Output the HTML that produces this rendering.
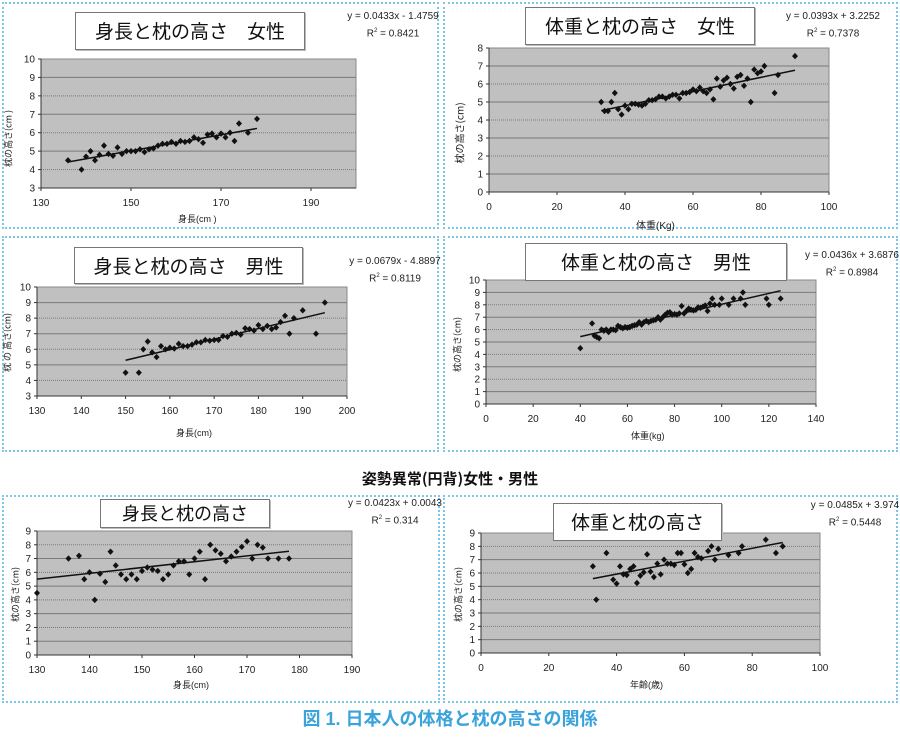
<!DOCTYPE html>
<html><head><meta charset="utf-8">
<style>
body{margin:0;width:900px;height:738px;background:#fff;position:relative;overflow:hidden;font-family:"Liberation Sans","Noto Sans CJK JP",sans-serif;}
.box{position:absolute;border:2px dotted #7cc6ea;box-sizing:border-box;}
.tt{position:absolute;background:#fff;border:1px solid #777;box-shadow:1px 1px 0 #bbb;box-sizing:border-box;text-align:center;font-family:"Noto Sans CJK JP",sans-serif;color:#111;}
.eq{position:absolute;font-size:10px;text-align:center;color:#222;line-height:15px;width:120px}
.ax{position:absolute;font-size:9px;color:#222;font-family:"Liberation Sans","Noto Sans CJK JP",sans-serif;white-space:nowrap}
.yt{position:absolute;font-size:9px;color:#222;transform:rotate(-90deg);transform-origin:center;white-space:nowrap;font-family:"Noto Sans CJK JP",sans-serif}
svg{position:absolute;left:0;top:0}
</style></head><body>
<div class="box" style="left:2px;top:2px;width:437px;height:227px"></div>
<div class="box" style="left:443px;top:2px;width:455px;height:227px"></div>
<div class="box" style="left:2px;top:236px;width:437px;height:216px"></div>
<div class="box" style="left:443px;top:236px;width:455px;height:216px"></div>
<div class="box" style="left:2px;top:495px;width:438px;height:208px"></div>
<div class="box" style="left:443px;top:495px;width:455px;height:208px"></div>

<svg id="s" width="900" height="738"></svg>

<div class="tt" style="left:75px;top:12px;width:230px;height:38px;font-size:19px;line-height:36px">身長と枕の高さ　女性</div>
<div class="tt" style="left:525px;top:7px;width:230px;height:38px;font-size:19px;line-height:36px">体重と枕の高さ　女性</div>
<div class="tt" style="left:74px;top:247px;width:229px;height:37px;font-size:19px;line-height:35px">身長と枕の高さ　男性</div>
<div class="tt" style="left:525px;top:243px;width:262px;height:38px;font-size:19px;line-height:36px">体重と枕の高さ　男性</div>
<div class="tt" style="left:100px;top:499px;width:170px;height:29px;font-size:18px;line-height:27px">身長と枕の高さ</div>
<div class="tt" style="left:553px;top:503px;width:169px;height:38px;font-size:19px;line-height:36px">体重と枕の高さ</div>

<div class="eq" style="left:333px;top:9px">y = 0.0433x - 1.4759<br>R<sup style="font-size:6px">2</sup> = 0.8421</div>
<div class="eq" style="left:773px;top:9px">y = 0.0393x + 3.2252<br>R<sup style="font-size:6px">2</sup> = 0.7378</div>
<div class="eq" style="left:335px;top:254px">y = 0.0679x - 4.8897<br>R<sup style="font-size:6px">2</sup> = 0.8119</div>
<div class="eq" style="left:792px;top:248px">y = 0.0436x + 3.6876<br>R<sup style="font-size:6px">2</sup> = 0.8984</div>
<div class="eq" style="left:335px;top:496px">y = 0.0423x + 0.0043<br>R<sup style="font-size:6px">2</sup> = 0.314</div>
<div class="eq" style="left:795px;top:498px">y = 0.0485x + 3.974<br>R<sup style="font-size:6px">2</sup> = 0.5448</div>

<div class="ax" style="left:178px;top:212px">身長(cm )</div>
<div class="ax" style="left:636px;top:217px;font-size:10px">体重(Kg)</div>
<div class="ax" style="left:176px;top:426px">身長(cm)</div>
<div class="ax" style="left:631px;top:429px">体重(kg)</div>
<div class="ax" style="left:173px;top:678px">身長(cm)</div>
<div class="ax" style="left:630px;top:678px">年齢(歳)</div>

<div class="yt" style="left:-22px;top:132px;width:60px;text-align:center">枕の高さ(cm )</div>
<div class="yt" style="left:429px;top:126px;width:60px;text-align:center;font-size:10px">枕の高さ(cm)</div>
<div class="yt" style="left:-23px;top:336px;width:60px;text-align:center">枕 の 高さ(cm)</div>
<div class="yt" style="left:427px;top:338px;width:60px;text-align:center">枕の高さ(cm)</div>
<div class="yt" style="left:-15px;top:588px;width:60px;text-align:center">枕の高さ(cm)</div>
<div class="yt" style="left:428px;top:588px;width:60px;text-align:center">枕の高さ(cm)</div>

<div style="position:absolute;left:0;width:900px;top:468px;text-align:center;font-size:15px;font-weight:bold;font-family:'Noto Sans CJK JP',sans-serif;color:#111">姿勢異常(円背)女性・男性</div>
<div style="position:absolute;left:0;width:900px;top:705px;text-align:center;font-size:18px;font-weight:bold;font-family:'Liberation Sans','Noto Sans CJK JP',sans-serif;color:#3aa3dc">図 1.  日本人の体格と枕の高さの関係</div>

<script>
var S=document.getElementById('s'),NS='http://www.w3.org/2000/svg';
function el(t,a){var e=document.createElementNS(NS,t);for(var k in a)e.setAttribute(k,a[k]);S.appendChild(e);return e;}
function chart(c){
 var X=function(v){return c.x0+(v-c.xa)/(c.xb-c.xa)*(c.x1-c.x0)},Y=function(v){return c.y1-(v-c.ya)/(c.yb-c.ya)*(c.y1-c.y0)};
 el('rect',{x:c.x0,y:c.y0,width:c.x1-c.x0,height:c.y1-c.y0,fill:'#c0c0c0',stroke:'#888','stroke-width':1});
 for(var v=c.ya;v<=c.yb;v+=1){var y=Y(v);
  if(v>c.ya&&v<c.yb)el('line',{x1:c.x0,x2:c.x1,y1:y,y2:y,stroke:'#7a7a7a','stroke-width':1,'stroke-dasharray':(v%2?'':'1 1')});
  el('line',{x1:c.x0-3,x2:c.x0,y1:y,y2:y,stroke:'#333'});
  var t=el('text',{x:c.x0-6,y:y+3.5,'font-size':10,'text-anchor':'end',fill:'#222','font-family':'Liberation Sans'});t.textContent=v;}
 for(var v=c.xa;v<=c.xb+0.01;v+=c.xs){var x=X(v);
  el('line',{x1:x,x2:x,y1:c.y1,y2:c.y1+3,stroke:'#333'});
  var t=el('text',{x:x,y:c.y1+18,'font-size':10,'text-anchor':'middle',fill:'#222','font-family':'Liberation Sans'});t.textContent=v;}
 el('line',{x1:c.x0,x2:c.x0,y1:c.y0,y2:c.y1,stroke:'#333'});
 el('line',{x1:c.x0,x2:c.x1,y1:c.y1,y2:c.y1,stroke:'#333'});
 var p=c.p;for(var i=0;i<p.length;i+=2){var x=X(p[i]),y=Y(p[i+1]);
  el('path',{d:'M'+x+' '+(y-3.2)+'L'+(x+3)+' '+y+'L'+x+' '+(y+3.2)+'L'+(x-3)+' '+y+'Z',fill:'#111'});}
 el('line',{x1:X(c.l[0]),y1:Y(c.m*c.l[0]+c.b),x2:X(c.l[1]),y2:Y(c.m*c.l[1]+c.b),stroke:'#111','stroke-width':1.5});
}
chart({x0:41,x1:356,y0:59,y1:188,xa:130,xb:200,xs:20,ya:3,yb:10,m:0.0433,b:-1.4759,l:[136,178],
p:[136,4.5,139,4,140,4.7,141,5,142,4.5,143,4.8,144,5.3,145,4.85,146,4.75,147,5.2,148,4.85,149,5,150,5,151,5,152,5.1,153,4.95,154,5.1,155,5.15,156,5.3,157,5.4,158,5.4,159,5.5,160,5.4,161,5.55,162,5.5,163,5.55,164,5.75,165,5.65,166,5.45,167,5.9,168,5.95,169,5.75,170,5.95,171,5.75,172,6,173,5.55,174,6.5,176,6,178,6.75]});
chart({x0:489,x1:829,y0:48,y1:192,xa:0,xb:100,xs:20,ya:0,yb:8,m:0.0393,b:3.2252,l:[33,90],
p:[33,5,34,4.5,35,4.5,36,5,37,5.5,38,4.6,39,4.3,40,4.8,41,4.6,42,4.9,43,4.9,44,4.85,45,4.8,46,4.9,47,5.1,48,5.1,49,5.15,50,5.3,51,5.3,52,5.2,53,5.3,54,5.4,55,5.4,56,5.2,57,5.5,58,5.5,59,5.55,60,5.7,61,5.6,62,5.8,63,5.6,64,5.5,65,5.7,66,5.15,67,6.3,68,5.85,69,6.2,70,6.35,71,6,72,5.75,73,6.4,74,6.5,75,5.9,76,6.3,77,5,78,6.8,79,6.6,80,6.7,81,7,84,5.5,85,6.5,90,7.55]});
chart({x0:37,x1:347,y0:287,y1:396,xa:130,xb:200,xs:10,ya:3,yb:10,m:0.0679,b:-4.8897,l:[150,195],
p:[150,4.5,153,4.5,154,6,155,6.5,156,5.8,157,5.5,158,6.2,159,6,160,6.1,161,6.05,162,6.35,163,6.2,164,6.2,165,6.3,166,6.45,167,6.45,168,6.6,169,6.55,170,6.6,171,6.6,172,6.85,173,6.8,174,7,175,7.05,176,6.95,177,7.35,178,7.3,179,7.2,180,7.55,181,7.3,182,7.5,183,7.3,184,7.4,185,7.75,186,8.15,187,7,188,8,190,8.5,193,7,195,9]});
chart({x0:486,x1:816,y0:280,y1:404,xa:0,xb:140,xs:20,ya:0,yb:10,m:0.0436,b:3.6876,l:[40,125],
p:[40,4.5,45,6.5,46,5.5,47,5.4,48,5.3,49,6,50,5.9,51,6,52,5.8,53,6,54,6,55,5.95,56,6.3,57,6.2,58,6.1,59,6.2,60,6.15,61,6.2,62,6.3,63,6.35,64,6.4,65,6.6,66,6.4,67,6.6,68,6.7,69,6.6,70,6.7,71,6.75,72,6.8,73,7,74,6.8,75,7,76,7.2,77,7.35,78,7.4,79,7.2,80,7.25,81,7.2,82,7.3,83,7.9,84,7.3,85,7.5,86,7.7,87,7.6,88,7.55,89,7.6,90,7.8,91,7.75,92,7.85,93,7.95,94,7.5,95,8.1,96,8.5,97,8,99,8,100,8.5,103,8,105,8.5,108,8.5,109,9,110,8,119,8.5,120,8,125,8.5]});
chart({x0:37,x1:352,y0:531,y1:655,xa:130,xb:190,xs:10,ya:0,yb:9,m:0.0423,b:0.0043,l:[130,178],
p:[130,4.5,136,7,138,7.2,139,5.5,140,6,141,4,142,5.9,143,5.3,144,7.5,145,6.5,146,5.85,147,5.5,148,5.85,149,5.5,150,6.1,151,6.35,152,6.2,153,6.1,154,5.5,155,5.85,156,6.5,157,6.8,158,6.8,159,5.85,160,7,161,7.5,162,5.5,163,8,164,7.6,165,7.35,166,6.8,167,7.15,168,7.5,169,7.85,170,8.25,171,7,172,8,173,7.8,174,7,176,7,178,7]});
chart({x0:481,x1:820,y0:533,y1:653,xa:0,xb:100,xs:20,ya:0,yb:9,m:0.0485,b:3.974,l:[33,89],
p:[33,6.5,34,4,37,7.5,39,5.5,40,5.2,41,6.5,42,5.9,43,5.85,44,6.3,45,6.5,46,5.25,47,5.8,48,6.05,49,7.4,50,6.1,51,5.7,52,6.7,53,5.9,54,7,55,6.7,56,6.7,57,6.6,58,7.5,59,7.5,60,6.65,61,6,62,6.3,63,7.5,64,7.2,65,7.1,67,7.65,68,8,69,7,70,7.8,73,7.35,76,7.5,77,8,84,8.5,87,7.5,89,8]});
</script>
</body></html>
